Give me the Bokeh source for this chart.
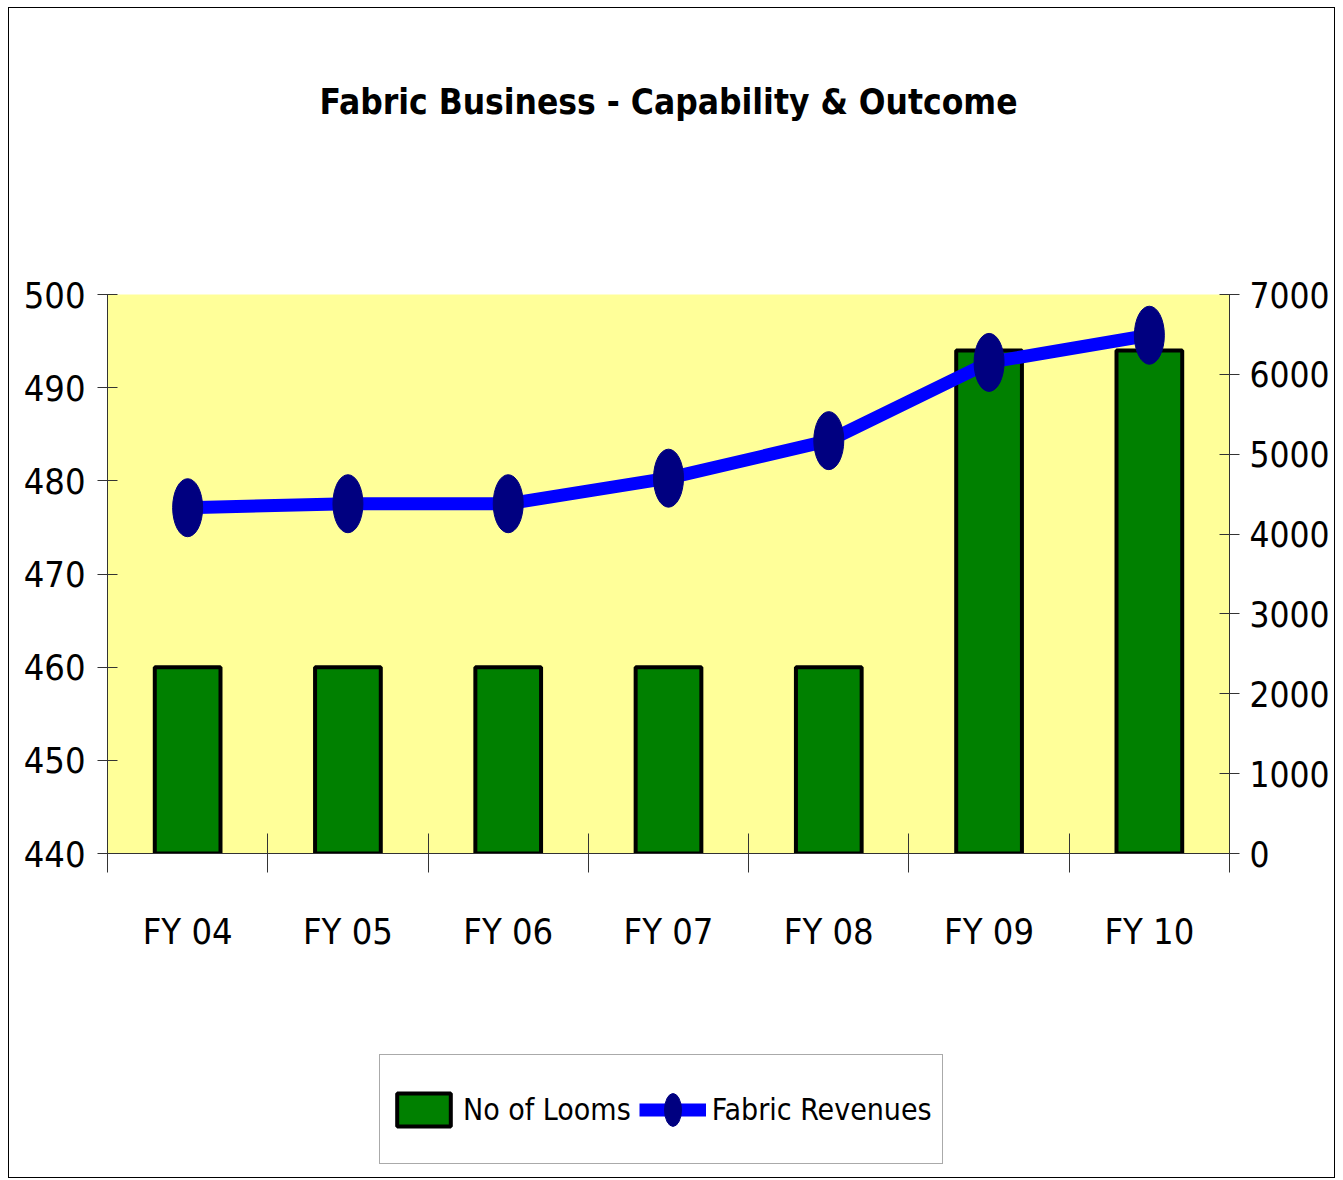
from bokeh.plotting import figure
from bokeh.layouts import column
from bokeh.models import Range1d, LinearAxis, FixedTicker, Legend, LegendItem, Title
from bokeh.embed import file_html
from bokeh.resources import INLINE

categories = ["FY 04", "FY 05", "FY 06", "FY 07", "FY 08", "FY 09", "FY 10"]
looms = [460, 460, 460, 460, 460, 494, 494]
revenues = [4330, 4380, 4380, 4700, 5170, 6150, 6490]
left_ticks = [440, 450, 460, 470, 480, 490, 500]
right_ticks = [0, 1000, 2000, 3000, 4000, 5000, 6000, 7000]
series_names = ["No of Looms", "Fabric Revenues"]

FONT = "DejaVu Sans Condensed"
xs = [i + 0.5 for i in range(len(categories))]

BAR_STYLE = dict(fill_color="#008000", line_color="black", line_width=4)
LINE_STYLE = dict(line_color="#0000FF", line_width=13)
DOT_STYLE = dict(fill_color="#000080", line_color="#000080")

p = figure(frame_width=1122, frame_height=559,
           min_border_left=98, min_border_right=105, min_border_top=286, min_border_bottom=150,
           x_range=Range1d(0, len(categories)), y_range=Range1d(440, 500),
           output_backend="svg", toolbar_location=None, title=None)
p.background_fill_color = "#FFFF99"
p.border_fill_color = "white"
p.outline_line_color = None
p.grid.visible = False
p.extra_y_ranges = {"rev": Range1d(0, 7000)}

p.add_layout(Title(text=" ", text_font_size="10px", standoff=155), "above")
p.add_layout(Title(text="Fabric Business - Capability & Outcome", align="center",
                   text_font=FONT, text_font_size="35px", text_font_style="bold",
                   text_color="black", standoff=10), "above")

p.vbar(x=xs, top=looms, bottom=440, width=0.41, **BAR_STYLE)
p.line(x=xs, y=revenues, y_range_name="rev", **LINE_STYLE)
p.ellipse(x=xs, y=revenues, width=30, height=58, width_units="screen",
          height_units="screen", y_range_name="rev", **DOT_STYLE)

ax = p.xaxis[0]
ax.ticker = FixedTicker(ticks=xs, minor_ticks=list(range(len(categories) + 1)))
ax.major_label_overrides = {x: c for x, c in zip(xs, categories)}
ax.major_tick_line_color = None
ax.major_tick_in = 0
ax.major_tick_out = 0
ax.minor_tick_line_color = "#333333"
ax.minor_tick_in = 20
ax.minor_tick_out = 19
ax.axis_line_color = "#333333"
ax.major_label_text_font = FONT
ax.major_label_text_color = "black"
ax.major_label_text_font_size = "36px"
ax.major_label_standoff = 38

ly = p.yaxis[0]
ly.ticker = FixedTicker(ticks=left_ticks)
ly.minor_tick_line_color = None
ly.major_tick_in = 10
ly.major_tick_out = 10
ly.axis_line_color = "#333333"
ly.major_tick_line_color = "#333333"
ly.major_label_text_font = FONT
ly.major_label_text_color = "black"
ly.major_label_text_font_size = "36px"
ly.major_label_standoff = 12

ry = LinearAxis(y_range_name="rev", ticker=FixedTicker(ticks=right_ticks))
ry.minor_tick_line_color = None
ry.major_tick_in = 10
ry.major_tick_out = 10
ry.axis_line_color = "#333333"
ry.major_tick_line_color = "#333333"
ry.major_label_text_font = FONT
ry.major_label_text_color = "black"
ry.major_label_text_font_size = "35px"
ry.major_label_standoff = 10
p.add_layout(ry, "right")

# legend strip below the chart; its renderers lie outside the strip's visible range
p2 = figure(width=1325, height=174, min_border_left=98, min_border_right=105,
            min_border_top=0, min_border_bottom=0,
            x_range=Range1d(0, len(categories)), y_range=Range1d(-2, -1),
            x_axis_location=None, y_axis_location=None,
            output_backend="svg", toolbar_location=None, title=None)
p2.outline_line_color = None
p2.grid.visible = False
p2.background_fill_color = "white"
p2.border_fill_color = "white"
lg_bar = p2.vbar(x=xs, top=looms, bottom=440, width=0.41, visible=False, **BAR_STYLE)
lg_line = p2.line(x=xs, y=revenues, visible=False, **LINE_STYLE)
lg_dot = p2.ellipse(x=xs, y=revenues, width=30, height=58, width_units="screen",
                    height_units="screen", **DOT_STYLE)

legend = Legend(items=[LegendItem(label=series_names[0], renderers=[lg_bar]),
                       LegendItem(label=series_names[1], renderers=[lg_line, lg_dot])],
                orientation="horizontal", location=(272, 13),
                label_text_font=FONT, label_text_font_size="30px",
                label_text_color="black",
                glyph_width=67, glyph_height=41, label_height=88,
                padding=10, spacing=8, label_standoff=6, margin=0,
                inactive_fill_alpha=0,
                border_line_color="#555555", border_line_width=1,
                background_fill_color="white", background_fill_alpha=1)
p2.add_layout(legend, "center")

layout = column(p, p2, spacing=0,
                styles={"border": "1px solid black", "margin-left": "8px", "margin-top": "7px"})

open("out.html", "w").write(file_html(layout, INLINE))
